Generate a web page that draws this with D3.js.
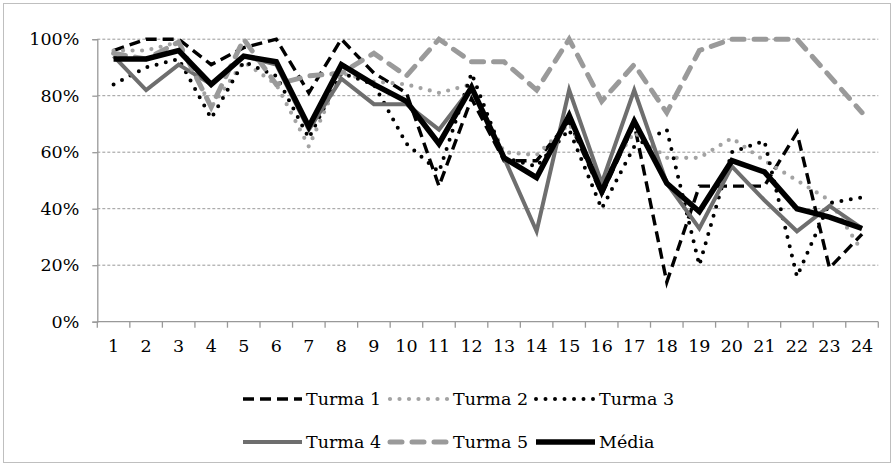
<!DOCTYPE html>
<html>
<head>
<meta charset="utf-8">
<script src="https://cdn.jsdelivr.net/npm/d3@7"></script>
<style>
  html, body { margin: 0; padding: 0; background: #fff; }
  svg { display: block; }
  text { font-family: "DejaVu Serif", serif; font-size: 17.5px; fill: #000; }
</style>
</head>
<body>
<svg id="chart" width="895" height="469"></svg>
<script>
const categories = ["1","2","3","4","5","6","7","8","9","10","11","12","13","14","15","16","17","18","19","20","21","22","23","24"];
const turma1 = [96,100,100,91,97,100,81,100,88,81,48,79,57,57,71,45,70,14,48,48,48,67,19,31];
const turma2 = [96,96,99,76,92,84,62,88,85,84,81,84,60,59,70,50,67,58,58,65,57,50,43,25];
const turma3 = [84,90,93,72,92,87,65,88,84,63,53,88,58,55,68,40,62,68,20,60,64,16,42,44];
const turma4 = [94,82,91,84,94,91,68,86,77,77,68,83,58,32,82,49,82,49,33,55,43,32,41,33];
const turma5 = [95,93,99,76,100,84,87,88,95,87,100,92,92,82,100,78,91,74,96,100,100,100,87,74];
const media  = [93,93,96,84,94,92,69,91,84,78,63,83,58,51,73,46,71,49,39,57,53,40,37,33];
const yTicks = [0, 20, 40, 60, 80, 100];
const seriesNames = ["Turma 1","Turma 2","Turma 3","Turma 4","Turma 5","Média"];

const styles = {
  "Turma 1": {color:"#000000", width:3.4, dash:"11 6", cap:"butt"},
  "Turma 2": {color:"#a3a3a3", width:4.2, dash:"0 9.5", cap:"round"},
  "Turma 3": {color:"#000000", width:4,   dash:"0 9.5", cap:"round"},
  "Turma 4": {color:"#6e6e6e", width:4,   dash:null,   cap:"butt"},
  "Turma 5": {color:"#9a9a9a", width:5,   dash:"12 10", cap:"round"},
  "Média":   {color:"#000000", width:5.5, dash:null,   cap:"butt"}
};
const seriesData = {"Turma 1":turma1,"Turma 2":turma2,"Turma 3":turma3,"Turma 4":turma4,"Turma 5":turma5,"Média":media};

const svg = d3.select("#chart");

// outer frame
svg.append("rect").attr("x",3.5).attr("y",3.5).attr("width",887).attr("height",459)
  .attr("fill","none").attr("stroke","#bfbfbf").attr("stroke-width",1);

const plotLeft = 97.3, plotRight = 878.3, plotTop = 39.2, plotBottom = 321.7;
const x = d3.scaleBand().domain(categories).range([plotLeft, plotRight]).padding(0);
const y = d3.scaleLinear().domain([0, 100]).range([plotBottom, plotTop]);

// gridlines
svg.append("g").selectAll("line").data(yTicks.filter(d => d > 0)).join("line")
  .attr("x1", plotLeft).attr("x2", plotRight)
  .attr("y1", d => y(d)).attr("y2", d => y(d))
  .attr("stroke", "#999").attr("stroke-width", 1).attr("stroke-dasharray", "3 2");

// y axis
const yAxis = svg.append("g").attr("transform", `translate(${plotLeft},0)`)
  .call(d3.axisLeft(y).tickValues(yTicks).tickFormat(d => d + "%").tickSize(5).tickPadding(13));
yAxis.select(".domain").attr("stroke", "#999").attr("stroke-width", 1.3);
yAxis.selectAll(".tick line").attr("stroke", "#999").attr("stroke-width", 1.3);
yAxis.selectAll("text").attr("font-family", "DejaVu Serif").attr("font-size", "17.5px").attr("fill", "#000");

// x axis with ticks at category boundaries
const xAxisG = svg.append("g").attr("transform", `translate(0,${plotBottom})`);
xAxisG.append("line").attr("x1", plotLeft).attr("x2", plotRight).attr("stroke", "#999").attr("stroke-width", 1.3);
const bounds = categories.map(c => x(c)).concat([x(categories[categories.length-1]) + x.bandwidth()]);
xAxisG.selectAll("line.tk").data(bounds).join("line").attr("class","tk")
  .attr("x1", d => d).attr("x2", d => d).attr("y1", 0).attr("y2", 6)
  .attr("stroke", "#999").attr("stroke-width", 1.3);
xAxisG.selectAll("text").data(categories).join("text")
  .attr("x", d => x(d) + x.bandwidth()/2).attr("y", 30)
  .attr("text-anchor", "middle").text(d => d);

// lines
const line = d3.line()
  .x((d, i) => x(categories[i]) + x.bandwidth()/2)
  .y(d => y(d));

seriesNames.forEach(name => {
  const s = styles[name];
  svg.append("path").datum(seriesData[name])
    .attr("d", line).attr("fill", "none")
    .attr("stroke", s.color).attr("stroke-width", s.width)
    .attr("stroke-linejoin", "miter").attr("stroke-linecap", s.cap)
    .attr("stroke-dasharray", s.dash);
});

// legend
const legCols = [243, 390, 536];
const legRows = [399, 442];
seriesNames.forEach((name, i) => {
  const s = styles[name];
  const lx = legCols[i % 3], ly = legRows[Math.floor(i / 3)];
  const g = svg.append("g");
  g.append("line").attr("x1", lx).attr("x2", lx + 59).attr("y1", ly).attr("y2", ly)
    .attr("stroke", s.color).attr("stroke-width", s.width)
    .attr("stroke-linecap", s.cap).attr("stroke-dasharray", s.dash);
  g.append("text").attr("x", lx + 63).attr("y", ly + 6).text(name);
});
</script>
</body>
</html>
